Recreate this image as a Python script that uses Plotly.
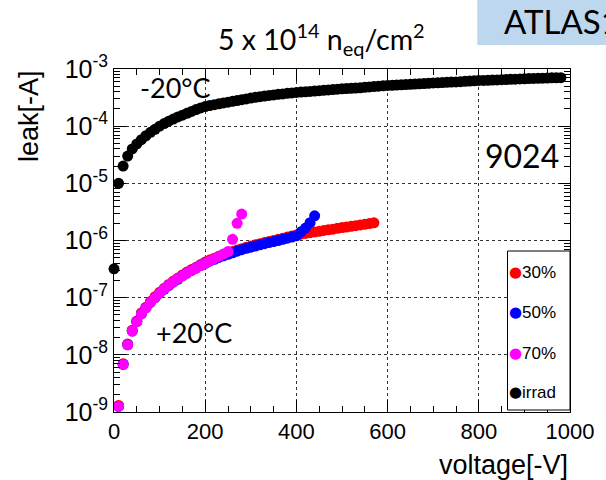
import plotly.graph_objects as go

# ---- measured leakage current vs. reverse bias ----
# irradiated sensor at -20 C
v_irrad = [0, 10, 20, 30, 40, 50, 60, 70, 80, 90,
           100, 110, 120, 130, 140, 150, 160, 170, 180, 190,
           200, 210, 220, 230, 240, 250, 260, 270, 280, 290,
           300, 310, 320, 330, 340, 350, 360, 370, 380, 390,
           400, 410, 420, 430, 440, 450, 460, 470, 480, 490,
           500, 510, 520, 530, 540, 550, 560, 570, 580, 590,
           600, 610, 620, 630, 640, 650, 660, 670, 680, 690,
           700, 710, 720, 730, 740, 750, 760, 770, 780, 790,
           800, 810, 820, 830, 840, 850, 860, 870, 880, 890,
           900, 910, 920, 930, 940, 950, 960, 970, 980]
i_irrad = [3.2e-7, 1.0e-5, 2.0e-5, 3.0e-5, 4.0e-5, 4.9e-5, 5.8e-5, 6.8e-5, 7.8e-5, 8.8e-5,
           1.0e-4, 1.11e-4, 1.22e-4, 1.33e-4, 1.45e-4, 1.56e-4, 1.68e-4, 1.81e-4, 1.95e-4, 2.08e-4,
           2.2e-4, 2.29e-4, 2.38e-4, 2.46e-4, 2.55e-4, 2.63e-4, 2.72e-4, 2.81e-4, 2.9e-4, 3.0e-4,
           3.1e-4, 3.19e-4, 3.28e-4, 3.36e-4, 3.45e-4, 3.52e-4, 3.6e-4, 3.67e-4, 3.75e-4, 3.82e-4,
           3.9e-4, 3.95e-4, 4.0e-4, 4.06e-4, 4.12e-4, 4.18e-4, 4.25e-4, 4.31e-4, 4.37e-4, 4.43e-4,
           4.5e-4, 4.55e-4, 4.6e-4, 4.65e-4, 4.7e-4, 4.78e-4, 4.85e-4, 4.92e-4, 5.0e-4, 5.08e-4,
           5.15e-4, 5.2e-4, 5.25e-4, 5.3e-4, 5.35e-4, 5.4e-4, 5.45e-4, 5.5e-4, 5.55e-4, 5.62e-4,
           5.7e-4, 5.75e-4, 5.8e-4, 5.85e-4, 5.9e-4, 5.95e-4, 6.0e-4, 6.08e-4, 6.15e-4, 6.22e-4,
           6.3e-4, 6.32e-4, 6.35e-4, 6.4e-4, 6.45e-4, 6.5e-4, 6.55e-4, 6.6e-4, 6.65e-4, 6.7e-4,
           6.75e-4, 6.8e-4, 6.85e-4, 6.88e-4, 6.9e-4, 6.95e-4, 7.0e-4, 7.02e-4, 7.05e-4]

# +20 C measurements, 30 % humidity
v_30 = [10, 20, 30, 40, 50, 60, 70, 80, 90, 100,
        110, 120, 130, 140, 150, 160, 170, 180, 190, 200,
        210, 220, 230, 240, 250, 260, 270, 280, 290, 300,
        310, 320, 330, 340, 350, 360, 370, 380, 390, 400,
        410, 420, 430, 440, 450, 460, 470, 480, 490, 500,
        510, 520, 530, 540, 550, 560, 570]
i_30 = [1.3e-9, 7.0e-9, 1.55e-8, 2.7e-8, 3.9e-8, 5.4e-8, 6.8e-8, 8.6e-8, 1.04e-7, 1.24e-7,
        1.46e-7, 1.7e-7, 1.95e-7, 2.2e-7, 2.5e-7, 2.8e-7, 3.1e-7, 3.4e-7, 3.8e-7, 4.2e-7,
        4.55e-7, 4.9e-7, 5.3e-7, 5.65e-7, 6.0e-7, 6.4e-7, 6.8e-7, 7.2e-7, 7.6e-7, 8.0e-7,
        8.4e-7, 8.8e-7, 9.2e-7, 9.6e-7, 1.0e-6, 1.05e-6, 1.1e-6, 1.15e-6, 1.2e-6, 1.25e-6,
        1.29e-6, 1.33e-6, 1.37e-6, 1.41e-6, 1.45e-6, 1.5e-6, 1.54e-6, 1.58e-6, 1.63e-6, 1.68e-6,
        1.72e-6, 1.77e-6, 1.82e-6, 1.87e-6, 1.92e-6, 1.98e-6, 2.04e-6]

# +20 C measurements, 50 % humidity
v_50 = [10, 20, 30, 40, 50, 60, 70, 80, 90, 100,
        110, 120, 130, 140, 150, 160, 170, 180, 190, 200,
        210, 220, 230, 240, 250, 260, 270, 280, 290, 300,
        310, 320, 330, 340, 350, 360, 370, 380, 390, 400,
        410, 420, 430, 440]
i_50 = [1.25e-9, 6.8e-9, 1.5e-8, 2.6e-8, 3.8e-8, 5.2e-8, 6.6e-8, 8.3e-8, 1.0e-7, 1.2e-7,
        1.4e-7, 1.62e-7, 1.87e-7, 2.1e-7, 2.4e-7, 2.7e-7, 3.0e-7, 3.3e-7, 3.65e-7, 4.0e-7,
        4.35e-7, 4.7e-7, 5.05e-7, 5.4e-7, 5.75e-7, 6.1e-7, 6.5e-7, 6.9e-7, 7.3e-7, 7.65e-7,
        8.0e-7, 8.4e-7, 8.8e-7, 9.2e-7, 9.6e-7, 1.0e-6, 1.05e-6, 1.1e-6, 1.15e-6, 1.21e-6,
        1.42e-6, 1.65e-6, 2.05e-6, 2.7e-6]

# +20 C measurements, 70 % humidity
v_70 = [10, 20, 30, 40, 50, 60, 70, 80, 90, 100,
        110, 120, 130, 140, 150, 160, 170, 180, 190, 200,
        210, 220, 230, 240, 250, 260, 270, 280]
i_70 = [1.25e-9, 6.8e-9, 1.5e-8, 2.6e-8, 3.8e-8, 5.2e-8, 6.6e-8, 8.3e-8, 1.0e-7, 1.2e-7,
        1.42e-7, 1.65e-7, 1.9e-7, 2.15e-7, 2.4e-7, 2.7e-7, 3.0e-7, 3.3e-7, 3.65e-7, 4.0e-7,
        4.4e-7, 4.8e-7, 5.3e-7, 5.8e-7, 6.4e-7, 1.05e-6, 2.0e-6, 2.9e-6]

series_names = ["30%", "50%", "70%", "irrad"]
series_colors = ["#ff0000", "#0000ff", "#ff00ff", "#000000"]

x_ticks = [0, 200, 400, 600, 800, 1000]
y_ticks = [1e-9, 1e-8, 1e-7, 1e-6, 1e-5, 1e-4, 1e-3]
y_ticktext = ["10<sup>-9</sup>", "10<sup>-8</sup>", "10<sup>-7</sup>", "10<sup>-6</sup>",
              "10<sup>-5</sup>", "10<sup>-4</sup>", "10<sup>-3</sup>"]

W, H = 606, 480
L, R, T, B = 114, 581, 69, 412  # plot frame in page pixels


def px(x):
    return (x - L) / (R - L)


def py(y):
    return (B - y) / (B - T)


fig = go.Figure()
data = [(v_30, i_30), (v_50, i_50), (v_70, i_70), (v_irrad, i_irrad)]
for (vx, iy), name, col in zip(data, series_names, series_colors):
    fig.add_trace(go.Scatter(
        x=vx, y=iy, mode="markers", name=name, showlegend=False,
        cliponaxis=False,
        marker=dict(size=11, color=col, line=dict(width=0)),
    ))

fig.update_xaxes(
    range=[0, 1000], tickvals=x_ticks, ticks="inside", ticklen=12,
    tickcolor="black", showline=True, linecolor="black", linewidth=1,
    mirror="ticks", showgrid=True, gridcolor="#333333", griddash="dot",
    gridwidth=1, zeroline=False, ticklabeloverflow="allow",
    tickfont=dict(family="Liberation Sans, Arial", size=22, color="black"),
    minor=dict(ticks="inside", ticklen=6, dtick=50, tickcolor="black", showgrid=False),
)
fig.update_yaxes(
    type="log", range=[-9, -3], tickvals=y_ticks, ticktext=y_ticktext,
    ticks="inside", ticklen=12, tickcolor="black", showline=True,
    linecolor="black", linewidth=1, mirror="ticks", showgrid=True,
    gridcolor="#333333", griddash="dot", gridwidth=1, zeroline=False,
    tickfont=dict(family="Liberation Sans, Arial", size=25, color="black"),
    minor=dict(ticks="inside", ticklen=6, dtick="D1", tickcolor="black", showgrid=False),
)

shapes = [
    # header tag box
    dict(type="rect", xref="paper", yref="paper", x0=px(486), x1=px(620),
         y0=py(45), y1=py(-5), fillcolor="#bdd7ee", line=dict(width=0), layer="below"),
    # legend frame
    dict(type="rect", xref="paper", yref="paper", x0=px(517), x1=px(581),
         y0=py(410), y1=py(251), fillcolor="white", line=dict(color="black", width=1)),
]

calibri = "Lato, Open Sans, sans-serif"
annotations = [
    dict(text="ATLAS1", x=px(511), y=py(21), xanchor="left", yanchor="middle",
         font=dict(family=calibri, size=33, color="black")),
    dict(text="5 x 10<sup>14</sup> n<sub>eq</sub>/cm<sup>2</sup>", x=px(326), y=py(39),
         xanchor="center", yanchor="middle", font=dict(family=calibri, size=28.5, color="black")),
    dict(text="-20°C", x=px(139), y=py(87), xanchor="left", yanchor="middle",
         font=dict(family=calibri, size=27, color="black")),
    dict(text="+20°C", x=px(155), y=py(332), xanchor="left", yanchor="middle",
         font=dict(family=calibri, size=27, color="black")),
    dict(text="9024", x=px(492), y=py(155), xanchor="left", yanchor="middle",
         font=dict(family=calibri, size=32, color="black")),
    dict(text="leak[-A]", x=px(27), y=py(68), xanchor="center", yanchor="top",
         textangle=-90, font=dict(family="Liberation Sans, Arial", size=27, color="black")),
    dict(text="voltage[-V]", x=px(581), y=py(465), xanchor="right", yanchor="middle",
         font=dict(family="Liberation Sans, Arial", size=27, color="black")),
]

# legend entries
legend_y = [272, 312, 353, 392]
for name, col, ly in zip(series_names, series_colors, legend_y):
    annotations.append(dict(text="●", x=px(525), y=py(ly), xanchor="center", yanchor="middle",
                            font=dict(family="DejaVu Sans", size=15, color=col)))
    annotations.append(dict(text=name, x=px(530), y=py(ly), xanchor="left", yanchor="middle",
                            font=dict(family="Liberation Sans, Arial", size=17, color="black")))

for a in annotations:
    a.update(xref="paper", yref="paper", showarrow=False)

fig.update_layout(
    width=W, height=H,
    margin=dict(l=L, r=W - R, t=T, b=H - B, pad=0),
    plot_bgcolor="white", paper_bgcolor="white",
    shapes=shapes, annotations=annotations, showlegend=False,
)

fig.write_html("out.html")
